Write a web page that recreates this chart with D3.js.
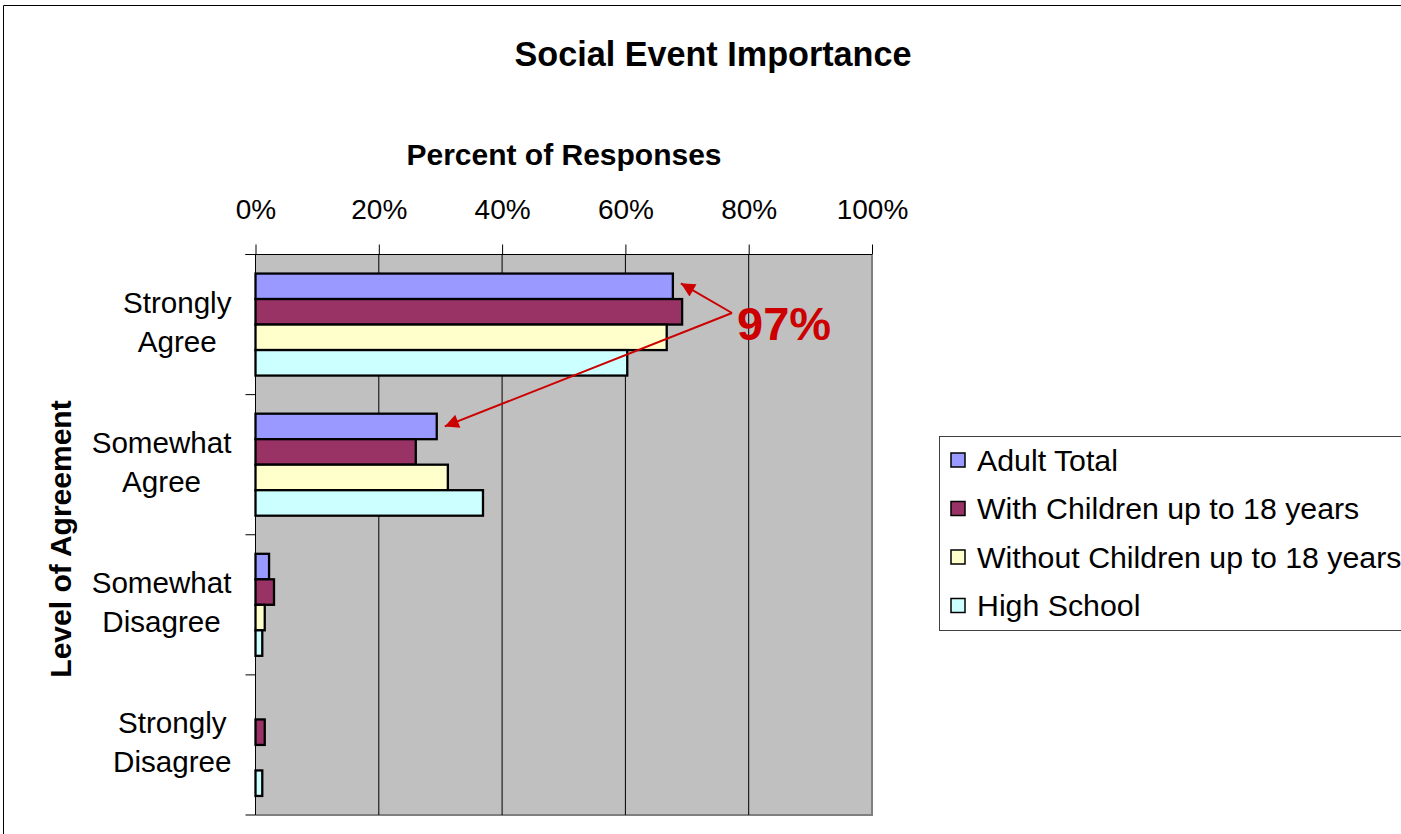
<!DOCTYPE html>
<html>
<head>
<meta charset="utf-8">
<script src="https://cdn.jsdelivr.net/npm/d3@7/dist/d3.min.js"></script>
<style>
  html, body { margin: 0; padding: 0; background: #fff; }
  svg { display: block; font-family: "Liberation Sans", Arial, sans-serif; }
</style>
</head>
<body>
<svg id="chart" width="1401" height="834"></svg>
<script>
// ---- data ----
const categories = ["Strongly Agree", "Somewhat Agree", "Somewhat Disagree", "Strongly Disagree"];
const seriesNames = ["Adult Total", "With Children up to 18 years", "Without Children up to 18 years", "High School"];
const adultTotal      = [67.7, 29.4, 2.2, 0];
const withChildren    = [69.2, 26.0, 3.0, 1.5];
const withoutChildren = [66.7, 31.2, 1.5, 0];
const highSchool      = [60.3, 36.9, 1.1, 1.1];
const xTicks = [0, 20, 40, 60, 80, 100];
const seriesColors = ["#9999FF", "#993366", "#FFFFCC", "#CCFFFF"];

const seriesValues = [adultTotal, withChildren, withoutChildren, highSchool];

const svg = d3.select("#chart");

// outer chart border
svg.append("path").attr("d", "M3.5,834 L3.5,5.5 L1401,5.5")
  .attr("fill", "none").attr("stroke", "#000").attr("stroke-width", 1);

const plot = { left: 255.5, right: 872, top: 254.5, bottom: 815 };

const x = d3.scaleLinear().domain([0, 100]).range([plot.left, plot.right]);
const y = d3.scaleBand().domain(categories).range([plot.top, plot.bottom]).padding(0);
const inner = d3.scaleBand().domain(seriesNames)
  .range([y.bandwidth() * 0.136, y.bandwidth() * (1 - 0.136)]).padding(0);

// plot background
svg.append("rect").attr("x", plot.left).attr("y", plot.top)
  .attr("width", plot.right - plot.left).attr("height", plot.bottom - plot.top)
  .attr("fill", "#C0C0C0");
// shadow edge right/bottom
svg.append("path")
  .attr("d", `M${plot.right},${plot.top} L${plot.right},${plot.bottom} L${plot.left},${plot.bottom}`)
  .attr("fill", "none").attr("stroke", "#808080").attr("stroke-width", 2);

// gridlines
svg.append("g").selectAll("line").data(xTicks.filter(t => t > 0 && t < 100)).join("line")
  .attr("x1", d => x(d)).attr("x2", d => x(d))
  .attr("y1", plot.top).attr("y2", plot.bottom)
  .attr("stroke", "#000").attr("stroke-width", 1);

// top axis
const xAxis = d3.axisTop(x).tickValues(xTicks).tickFormat(d => d + "%").tickSize(10).tickPadding(26);
const gx = svg.append("g").attr("transform", `translate(0,${plot.top})`).call(xAxis);
gx.select(".domain").attr("d", `M${plot.left - 10},0H${plot.right}`).attr("stroke", "#000");
gx.selectAll(".tick line").attr("stroke", "#000");
gx.selectAll(".tick text").attr("font-size", 28).attr("fill", "#000")
  .attr("font-family", '"Liberation Sans", Arial, sans-serif');

// left axis (ticks at category boundaries)
const boundaries = categories.map(c => y(c)).concat([plot.bottom]);
svg.append("line").attr("x1", plot.left).attr("x2", plot.left)
  .attr("y1", plot.top).attr("y2", plot.bottom).attr("stroke", "#000");
svg.append("g").selectAll("line").data(boundaries).join("line")
  .attr("x1", plot.left - 10).attr("x2", plot.left)
  .attr("y1", d => d).attr("y2", d => d).attr("stroke", "#000");

// category labels (two centered lines, block right-aligned)
const catG = svg.append("g");
const labelRight = 231.5;
categories.forEach(c => {
  const words = c.split(" ");
  const cy = y(c) + y.bandwidth() / 2;
  const t = catG.append("text").attr("text-anchor", "middle").attr("font-size", 29.6).attr("fill", "#000");
  const spans = words.map((w, i) => t.append("tspan").attr("y", i === 0 ? cy - 12 : cy + 27).text(w));
  const maxW = d3.max(spans, s => s.node().getComputedTextLength());
  spans.forEach(s => s.attr("x", labelRight - maxW / 2));
});

// bars
const flat = [];
categories.forEach((c, ci) => seriesNames.forEach((s, si) => flat.push({ c, s, si, v: seriesValues[si][ci] })));
svg.append("g").selectAll("rect").data(flat.filter(d => d.v > 0)).join("rect")
  .attr("x", x(0))
  .attr("y", d => y(d.c) + inner(d.s))
  .attr("width", d => x(d.v) - x(0))
  .attr("height", inner.bandwidth())
  .attr("fill", d => seriesColors[d.si])
  .attr("stroke", "#000").attr("stroke-width", 2.3);

// titles
svg.append("text").attr("x", 713).attr("y", 66).attr("text-anchor", "middle")
  .attr("font-size", 34.2).attr("font-weight", "bold").text("Social Event Importance");
svg.append("text").attr("x", 564).attr("y", 165).attr("text-anchor", "middle")
  .attr("font-size", 30).attr("font-weight", "bold").text("Percent of Responses");
svg.append("text").attr("transform", `translate(71,539) rotate(-90)`).attr("text-anchor", "middle")
  .attr("font-size", 30).attr("font-weight", "bold").text("Level of Agreement");

// legend
const lg = svg.append("g");
lg.append("rect").attr("x", 939.5).attr("y", 436.5).attr("width", 470).attr("height", 194)
  .attr("fill", "#fff").attr("stroke", "#404040").attr("stroke-width", 1);
seriesNames.forEach((s, i) => {
  const cy = 460 + i * 48.5;
  lg.append("rect").attr("x", 951).attr("y", cy - 7).attr("width", 14).attr("height", 14)
    .attr("fill", seriesColors[i]).attr("stroke", "#000").attr("stroke-width", 1.5);
  lg.append("text").attr("x", 977).attr("y", cy + 10.5).attr("font-size", 30.3).text(s);
});

// annotation: sum of agreement for Adult Total
const agreeSum = Math.round(adultTotal[0] + adultTotal[1]);
const red = "#CC0000";
const defs = svg.append("defs");
defs.append("marker").attr("id", "arr").attr("viewBox", "0 0 10 10")
  .attr("refX", 10).attr("refY", 5).attr("markerWidth", 8).attr("markerHeight", 7)
  .attr("markerUnits", "strokeWidth").attr("orient", "auto")
  .append("path").attr("d", "M0,0 L10,5 L0,10 z").attr("fill", red);
const start = [732, 313];
const targets = [0, 1].map(ci => [x(adultTotal[ci]) + 8, y(categories[ci]) + inner(seriesNames[0]) + inner.bandwidth() / 2 - 3 + ci * 3]);
svg.append("g").selectAll("line").data(targets).join("line")
  .attr("x1", start[0]).attr("y1", start[1])
  .attr("x2", d => d[0]).attr("y2", d => d[1])
  .attr("stroke", red).attr("stroke-width", 2).attr("marker-end", "url(#arr)");
svg.append("text").attr("x", 737).attr("y", 340).attr("font-size", 47).attr("font-weight", "bold")
  .attr("fill", red).text(agreeSum + "%");
</script>
</body>
</html>
